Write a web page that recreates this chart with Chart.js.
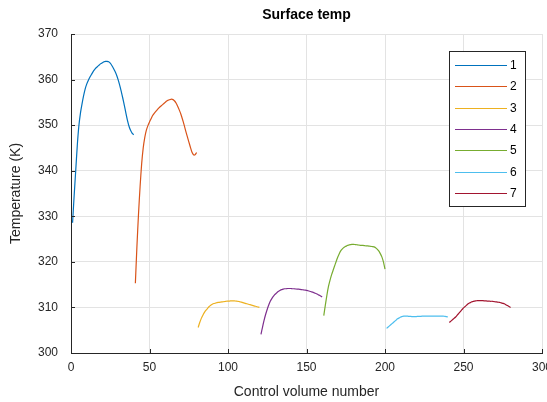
<!DOCTYPE html>
<html>
<head>
<meta charset="utf-8">
<script src="https://cdn.jsdelivr.net/npm/chart.js@4"></script>
<style>
  html, body { margin: 0; padding: 0; background: #fff; }
  #wrap { width: 547px; height: 402px; }
</style>
</head>
<body>
<div id="wrap"><canvas id="surfaceTemp"></canvas></div>
<script>
// first control volume of each segment
const cvStart = [1, 41, 81, 121, 161, 201, 241];
const seriesNames = ["1", "2", "3", "4", "5", "6", "7"];
const seriesColors = ["#0072BD", "#D95319", "#EDB120", "#7E2F8E", "#77AC30", "#4DBEEE", "#A2142F"];
const xTicks = [0, 50, 100, 150, 200, 250, 300];
const yTicks = [300, 310, 320, 330, 340, 350, 360, 370];
const chartTitle = "Surface temp";

// surface temperature (K), 40 control volumes per segment
const temp1 = [328.6, 334.5, 340.0, 345.5, 349.8, 352.6, 354.6, 356.4, 357.9, 359.0,
    359.8, 360.5, 361.1, 361.7, 362.2, 362.6, 362.9, 363.2, 363.5, 363.7,
    363.9, 364.0, 364.0, 363.9, 363.6, 363.1, 362.5, 361.8, 361.0, 360.0,
    358.8, 357.4, 355.9, 354.3, 352.6, 351.0, 349.7, 348.8, 348.2, 347.9];
const temp2 = [315.3, 323.5, 330.5, 336.5, 341.5, 345.0, 347.3, 348.9, 349.9, 350.7,
    351.4, 352.1, 352.6, 353.0, 353.4, 353.8, 354.1, 354.4, 354.7, 355.0,
    355.3, 355.5, 355.6, 355.7, 355.6, 355.3, 354.8, 354.1, 353.3, 352.4,
    351.3, 350.1, 348.8, 347.6, 346.4, 345.2, 344.1, 343.5, 343.5, 344.0];
const temp3 = [305.6, 306.7, 307.6, 308.3, 308.9, 309.4, 309.8, 310.2, 310.5, 310.7,
    310.85, 310.95, 311.05, 311.1, 311.15, 311.2, 311.25, 311.3, 311.35, 311.4,
    311.4, 311.45, 311.45, 311.45, 311.4, 311.35, 311.3, 311.2, 311.1, 311.0,
    310.9, 310.8, 310.7, 310.6, 310.5, 310.4, 310.3, 310.2, 310.1, 310.0];
const temp4 = [304.1, 305.7, 307.2, 308.5, 309.6, 310.6, 311.4, 312.0, 312.5, 312.9,
    313.2, 313.5, 313.7, 313.9, 314.0, 314.1, 314.1, 314.15, 314.15, 314.15,
    314.1, 314.1, 314.05, 314.0, 314.0, 313.95, 313.9, 313.85, 313.8, 313.75,
    313.65, 313.55, 313.45, 313.35, 313.2, 313.05, 312.9, 312.7, 312.5, 312.3];
const temp5 = [308.2, 310.5, 312.7, 314.6, 316.0, 317.2, 318.2, 319.2, 320.2, 321.1,
    321.9, 322.5, 322.9, 323.2, 323.4, 323.6, 323.7, 323.8, 323.85, 323.85,
    323.8, 323.75, 323.7, 323.65, 323.6, 323.6, 323.55, 323.5, 323.5, 323.45,
    323.4, 323.35, 323.3, 323.1, 322.8, 322.4, 321.8, 321.1, 320.0, 318.4];
const temp6 = [305.4, 305.7, 306.0, 306.3, 306.6, 306.9, 307.2, 307.5, 307.7, 307.9,
    308.0, 308.1, 308.1, 308.1, 308.05, 308.05, 308.0, 308.0, 308.0, 308.0,
    308.05, 308.05, 308.05, 308.1, 308.1, 308.1, 308.1, 308.1, 308.1, 308.1,
    308.1, 308.1, 308.1, 308.1, 308.1, 308.1, 308.1, 308.05, 308.0, 307.9];
const temp7 = [306.7, 307.0, 307.3, 307.6, 307.9, 308.3, 308.7, 309.1, 309.5, 309.9,
    310.2, 310.5, 310.8, 311.0, 311.2, 311.3, 311.4, 311.45, 311.5, 311.5,
    311.5, 311.5, 311.45, 311.45, 311.4, 311.4, 311.35, 311.35, 311.3, 311.25,
    311.2, 311.15, 311.1, 311.0, 310.9, 310.8, 310.6, 310.4, 310.2, 310.0];

const allTemps = [temp1, temp2, temp3, temp4, temp5, temp6, temp7];
const FONT = "'Liberation Sans', Arial, Helvetica, sans-serif";
const AXIS_COLOR = "#262626";

let datasets = [];
allTemps.forEach((temps, k) => {
    datasets.push({
        label: seriesNames[k],
        data: temps.map((t, i) => ({ x: cvStart[k] + i, y: t })),
        borderColor: seriesColors[k],
        backgroundColor: seriesColors[k],
        borderWidth: 1.2,
        pointRadius: 0,
        tension: 0.2,
        fill: false
    });
});

// title centred over the axes, inward tick marks like MATLAB
const axesDecor = {
    id: "axesDecor",
    afterDatasetsDraw(chart) {
        const { ctx, chartArea, scales } = chart;
        ctx.save();
        ctx.strokeStyle = AXIS_COLOR;
        ctx.lineWidth = 1;
        ctx.beginPath();
        xTicks.forEach(v => {
            const px = Math.round(scales.x.getPixelForValue(v)) + 0.5;
            ctx.moveTo(px, chartArea.bottom);
            ctx.lineTo(px, chartArea.bottom - 4);
        });
        yTicks.forEach(v => {
            const py = Math.round(scales.y.getPixelForValue(v)) + 0.5;
            ctx.moveTo(chartArea.left, py);
            ctx.lineTo(chartArea.left + 4, py);
        });
        ctx.stroke();

        ctx.fillStyle = "#000";
        ctx.font = "bold 14px " + FONT;
        ctx.textAlign = "center";
        ctx.textBaseline = "middle";
        ctx.fillText(chartTitle, (chartArea.left + chartArea.right) / 2, 15);
        ctx.restore();
    }
};

// boxed legend in the upper right of the axes
const boxLegend = {
    id: "boxLegend",
    afterDraw(chart) {
        const ctx = chart.ctx;
        const bx = 449.5, by = 51.5, bw = 76, bh = 155;
        ctx.save();
        ctx.fillStyle = "#fff";
        ctx.fillRect(bx, by, bw, bh);
        ctx.strokeStyle = AXIS_COLOR;
        ctx.lineWidth = 1;
        ctx.strokeRect(bx, by, bw, bh);
        ctx.font = "12px " + FONT;
        ctx.textBaseline = "middle";
        ctx.textAlign = "left";
        chart.data.datasets.forEach((ds, i) => {
            const y = Math.round(65 + i * 21.3) + 0.5;
            ctx.strokeStyle = ds.borderColor;
            ctx.lineWidth = 1.2;
            ctx.beginPath();
            ctx.moveTo(455, y);
            ctx.lineTo(507, y);
            ctx.stroke();
            ctx.fillStyle = "#000";
            ctx.fillText(ds.label, 510, y);
        });
        ctx.restore();
    }
};

new Chart(document.getElementById("surfaceTemp"), {
    type: "line",
    data: { datasets: datasets },
    options: {
        responsive: true,
        maintainAspectRatio: false,
        animation: false,
        layout: { padding: { left: 0, right: 5, top: 34, bottom: 0 } },
        plugins: {
            legend: { display: false },
            tooltip: { enabled: false },
            title: { display: false }
        },
        scales: {
            x: {
                type: "linear",
                min: 0,
                max: 300,
                afterBuildTicks: s => { s.ticks = xTicks.map(v => ({ value: v })); },
                afterFit: s => { s.height = 49; s.paddingLeft = 0; s.paddingRight = 0; },
                ticks: { color: AXIS_COLOR, font: { family: FONT, size: 12 }, padding: 7, maxRotation: 0 },
                grid: { color: "#e3e3e3", drawTicks: false },
                border: { display: true, color: AXIS_COLOR, width: 1 },
                title: {
                    display: true,
                    text: "Control volume number",
                    color: AXIS_COLOR,
                    font: { family: FONT, size: 14 },
                    padding: { top: 0, bottom: 1 }
                }
            },
            y: {
                type: "linear",
                min: 300,
                max: 370,
                afterBuildTicks: s => { s.ticks = yTicks.map(v => ({ value: v })); },
                afterFit: s => { s.width = 71; s.paddingTop = 0; s.paddingBottom = 0; },
                ticks: { color: AXIS_COLOR, font: { family: FONT, size: 12 }, padding: 13 },
                grid: { color: "#e3e3e3", drawTicks: false },
                border: { display: true, color: AXIS_COLOR, width: 1 },
                title: {
                    display: true,
                    text: "Temperature (K)",
                    color: AXIS_COLOR,
                    font: { family: FONT, size: 14 },
                    padding: { top: 8, bottom: 0 }
                }
            }
        }
    },
    plugins: [axesDecor, boxLegend]
});
</script>
</body>
</html>
